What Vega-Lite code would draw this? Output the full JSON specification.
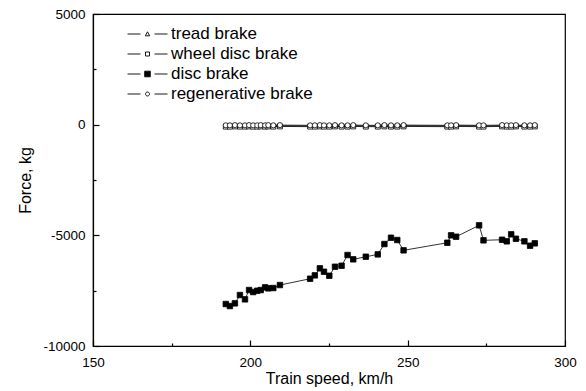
{
  "$schema": "https://vega.github.io/schema/vega-lite/v6.json",
  "width": 472,
  "height": 332,
  "autosize": {"type": "none"},
  "padding": {"left": 93, "top": 14, "right": 21, "bottom": 45},
  "background": "white",
  "config": {
    "font": "Liberation Sans",
    "view": {"stroke": "black", "strokeWidth": 1.2},
    "axis": {"grid": false, "domainColor": "black", "tickColor": "black", "labelColor": "black", "titleColor": "black", "labelFont": "Liberation Sans", "titleFont": "Liberation Sans", "titleFontWeight": "normal", "labelFontSize": 13.5, "titleFontSize": 16}
  },
  "datasets": {
    "pts": [
      {"series":"disc brake","speed":192.2,"force":-8104},{"series":"disc brake","speed":193.5,"force":-8195},{"series":"disc brake","speed":195.1,"force":-8073},{"series":"disc brake","speed":196.7,"force":-7698},{"series":"disc brake","speed":198.3,"force":-7892},{"series":"disc brake","speed":199.6,"force":-7472},{"series":"disc brake","speed":200.9,"force":-7562},{"series":"disc brake","speed":202.2,"force":-7503},{"series":"disc brake","speed":203.3,"force":-7472},{"series":"disc brake","speed":204.7,"force":-7350},{"series":"disc brake","speed":205.7,"force":-7395},{"series":"disc brake","speed":207.3,"force":-7381},{"series":"disc brake","speed":209.4,"force":-7246},{"series":"disc brake","speed":219.0,"force":-6961},{"series":"disc brake","speed":220.5,"force":-6808},{"series":"disc brake","speed":222.1,"force":-6491},{"series":"disc brake","speed":223.4,"force":-6645},{"series":"disc brake","speed":225.1,"force":-6826},{"series":"disc brake","speed":226.9,"force":-6419},{"series":"disc brake","speed":229.0,"force":-6374},{"series":"disc brake","speed":230.9,"force":-5890},{"series":"disc brake","speed":232.7,"force":-6084},{"series":"disc brake","speed":236.7,"force":-5967},{"series":"disc brake","speed":240.5,"force":-5860},{"series":"disc brake","speed":242.6,"force":-5393},{"series":"disc brake","speed":244.7,"force":-5108},{"series":"disc brake","speed":246.7,"force":-5212},{"series":"disc brake","speed":248.7,"force":-5678},{"series":"disc brake","speed":262.6,"force":-5335},{"series":"disc brake","speed":263.8,"force":-5000},{"series":"disc brake","speed":265.4,"force":-5063},{"series":"disc brake","speed":272.7,"force":-4548},{"series":"disc brake","speed":274.1,"force":-5226},{"series":"disc brake","speed":280.0,"force":-5199},{"series":"disc brake","speed":281.5,"force":-5271},{"series":"disc brake","speed":282.9,"force":-4955},{"series":"disc brake","speed":284.4,"force":-5154},{"series":"disc brake","speed":287.1,"force":-5271},{"series":"disc brake","speed":288.9,"force":-5470},{"series":"disc brake","speed":290.4,"force":-5361},

      {"series":"tread brake","speed":192.2,"force":-60},{"series":"tread brake","speed":193.5,"force":-60},{"series":"tread brake","speed":195.1,"force":-50},{"series":"tread brake","speed":196.7,"force":-60},{"series":"tread brake","speed":198.3,"force":-60},{"series":"tread brake","speed":199.6,"force":-50},{"series":"tread brake","speed":200.9,"force":-60},{"series":"tread brake","speed":202.2,"force":-60},{"series":"tread brake","speed":203.3,"force":-50},{"series":"tread brake","speed":204.7,"force":-60},{"series":"tread brake","speed":205.7,"force":-50},{"series":"tread brake","speed":207.3,"force":-60},{"series":"tread brake","speed":209.4,"force":-50},{"series":"tread brake","speed":219.0,"force":-60},{"series":"tread brake","speed":220.5,"force":-60},{"series":"tread brake","speed":222.1,"force":-50},{"series":"tread brake","speed":223.4,"force":-60},{"series":"tread brake","speed":225.1,"force":-60},{"series":"tread brake","speed":226.9,"force":-50},{"series":"tread brake","speed":229.0,"force":-60},{"series":"tread brake","speed":230.9,"force":-60},{"series":"tread brake","speed":232.7,"force":-50},{"series":"tread brake","speed":236.7,"force":-60},{"series":"tread brake","speed":240.5,"force":-60},{"series":"tread brake","speed":242.6,"force":-50},{"series":"tread brake","speed":244.7,"force":-60},{"series":"tread brake","speed":246.7,"force":-60},{"series":"tread brake","speed":248.7,"force":-50},{"series":"tread brake","speed":262.6,"force":-60},{"series":"tread brake","speed":263.8,"force":-60},{"series":"tread brake","speed":265.4,"force":-50},{"series":"tread brake","speed":272.7,"force":-60},{"series":"tread brake","speed":274.1,"force":-60},{"series":"tread brake","speed":280.0,"force":-50},{"series":"tread brake","speed":281.5,"force":-60},{"series":"tread brake","speed":282.9,"force":-60},{"series":"tread brake","speed":284.4,"force":-50},{"series":"tread brake","speed":287.1,"force":-60},{"series":"tread brake","speed":288.9,"force":-60},{"series":"tread brake","speed":290.4,"force":-50},

      {"series":"wheel disc brake","speed":192.2,"force":-90},{"series":"wheel disc brake","speed":193.5,"force":-90},{"series":"wheel disc brake","speed":195.1,"force":-80},{"series":"wheel disc brake","speed":196.7,"force":-90},{"series":"wheel disc brake","speed":198.3,"force":-90},{"series":"wheel disc brake","speed":199.6,"force":-80},{"series":"wheel disc brake","speed":200.9,"force":-90},{"series":"wheel disc brake","speed":202.2,"force":-90},{"series":"wheel disc brake","speed":203.3,"force":-80},{"series":"wheel disc brake","speed":204.7,"force":-90},{"series":"wheel disc brake","speed":205.7,"force":-80},{"series":"wheel disc brake","speed":207.3,"force":-90},{"series":"wheel disc brake","speed":209.4,"force":-80},{"series":"wheel disc brake","speed":219.0,"force":-90},{"series":"wheel disc brake","speed":220.5,"force":-90},{"series":"wheel disc brake","speed":222.1,"force":-80},{"series":"wheel disc brake","speed":223.4,"force":-90},{"series":"wheel disc brake","speed":225.1,"force":-90},{"series":"wheel disc brake","speed":226.9,"force":-80},{"series":"wheel disc brake","speed":229.0,"force":-90},{"series":"wheel disc brake","speed":230.9,"force":-90},{"series":"wheel disc brake","speed":232.7,"force":-80},{"series":"wheel disc brake","speed":236.7,"force":-90},{"series":"wheel disc brake","speed":240.5,"force":-90},{"series":"wheel disc brake","speed":242.6,"force":-80},{"series":"wheel disc brake","speed":244.7,"force":-90},{"series":"wheel disc brake","speed":246.7,"force":-90},{"series":"wheel disc brake","speed":248.7,"force":-80},{"series":"wheel disc brake","speed":262.6,"force":-90},{"series":"wheel disc brake","speed":263.8,"force":-90},{"series":"wheel disc brake","speed":265.4,"force":-80},{"series":"wheel disc brake","speed":272.7,"force":-90},{"series":"wheel disc brake","speed":274.1,"force":-90},{"series":"wheel disc brake","speed":280.0,"force":-80},{"series":"wheel disc brake","speed":281.5,"force":-90},{"series":"wheel disc brake","speed":282.9,"force":-90},{"series":"wheel disc brake","speed":284.4,"force":-80},{"series":"wheel disc brake","speed":287.1,"force":-90},{"series":"wheel disc brake","speed":288.9,"force":-90},{"series":"wheel disc brake","speed":290.4,"force":-80},

      {"series":"regenerative brake","speed":192.2,"force":-30},{"series":"regenerative brake","speed":193.5,"force":-30},{"series":"regenerative brake","speed":195.1,"force":-20},{"series":"regenerative brake","speed":196.7,"force":-30},{"series":"regenerative brake","speed":198.3,"force":-30},{"series":"regenerative brake","speed":199.6,"force":-20},{"series":"regenerative brake","speed":200.9,"force":-30},{"series":"regenerative brake","speed":202.2,"force":-30},{"series":"regenerative brake","speed":203.3,"force":-20},{"series":"regenerative brake","speed":204.7,"force":-30},{"series":"regenerative brake","speed":205.7,"force":-20},{"series":"regenerative brake","speed":207.3,"force":-30},{"series":"regenerative brake","speed":209.4,"force":-20},{"series":"regenerative brake","speed":219.0,"force":-30},{"series":"regenerative brake","speed":220.5,"force":-30},{"series":"regenerative brake","speed":222.1,"force":-20},{"series":"regenerative brake","speed":223.4,"force":-30},{"series":"regenerative brake","speed":225.1,"force":-30},{"series":"regenerative brake","speed":226.9,"force":-20},{"series":"regenerative brake","speed":229.0,"force":-30},{"series":"regenerative brake","speed":230.9,"force":-30},{"series":"regenerative brake","speed":232.7,"force":-20},{"series":"regenerative brake","speed":236.7,"force":-30},{"series":"regenerative brake","speed":240.5,"force":-30},{"series":"regenerative brake","speed":242.6,"force":-20},{"series":"regenerative brake","speed":244.7,"force":-30},{"series":"regenerative brake","speed":246.7,"force":-30},{"series":"regenerative brake","speed":248.7,"force":-20},{"series":"regenerative brake","speed":262.6,"force":-30},{"series":"regenerative brake","speed":263.8,"force":-30},{"series":"regenerative brake","speed":265.4,"force":-20},{"series":"regenerative brake","speed":272.7,"force":-30},{"series":"regenerative brake","speed":274.1,"force":-30},{"series":"regenerative brake","speed":280.0,"force":-20},{"series":"regenerative brake","speed":281.5,"force":-30},{"series":"regenerative brake","speed":282.9,"force":-30},{"series":"regenerative brake","speed":284.4,"force":-20},{"series":"regenerative brake","speed":287.1,"force":-30},{"series":"regenerative brake","speed":288.9,"force":-30},{"series":"regenerative brake","speed":290.4,"force":-20}
    ]
  },
  "data": {"name": "pts"},
  "encoding": {
    "x": {
      "field": "speed", "type": "quantitative",
      "scale": {"domain": [150, 300], "nice": false, "zero": false},
      "axis": {
        "title": "Train speed, km/h", "titleFontSize": 16, "titlePadding": 2,
        "values": [150, 175, 200, 225, 250, 275, 300],
        "labelExpr": "datum.value % 50 === 0 ? '' + datum.value : ''",
        "tickSize": {"condition": {"test": "datum.value % 50 === 0", "value": -6}, "value": -3},
        "labelPadding": 15, "domainWidth": 1.2, "tickWidth": 1.2, "labelFlush": false
      }
    },
    "y": {
      "field": "force", "type": "quantitative",
      "scale": {"domain": [-10000, 5000], "nice": false, "zero": false},
      "axis": {
        "title": "Force, kg", "titleFontSize": 16, "titlePadding": 9,
        "values": [-10000, -7500, -5000, -2500, 0, 2500, 5000],
        "labelExpr": "datum.value % 5000 === 0 ? '' + datum.value : ''",
        "tickSize": {"condition": {"test": "datum.value % 5000 === 0", "value": -6}, "value": -3},
        "labelPadding": 14, "domainWidth": 1.2, "tickWidth": 1.2, "labelFlush": false
      }
    }
  },
  "layer": [
    {
      "mark": {"type": "line", "color": "black", "strokeWidth": 0.8},
      "encoding": {"detail": {"field": "series"}}
    },
    {
      "mark": {"type": "point", "opacity": 0, "size": 1, "filled": false, "strokeWidth": 0.9},
      "encoding": {
        "shape": {
          "field": "series", "type": "nominal",
          "scale": {"domain": ["tread brake", "wheel disc brake", "disc brake", "regenerative brake"],
            "range": ["M-1,0H-0.35M0.35,0H1M-0.11,0.09L0,-0.11L0.11,0.09Z", "M-1,0H-0.35M0.35,0H1M-0.1,-0.1H0.1V0.1H-0.1Z", "M-1,0H-0.35M0.35,0H1M-0.14,-0.14H0.14V0.14H-0.14Z", "M-1,0H-0.35M0.35,0H1M0.1,0A0.1,0.1,0,1,1,-0.1,0A0.1,0.1,0,1,1,0.1,0Z"]},
          "legend": {
            "title": null, "orient": "none", "legendX": 34, "legendY": 10,
            "labelFontSize": 17, "labelColor": "black", "labelFont": "Liberation Sans", "labelOffset": 3,
            "rowPadding": 0, "clipHeight": 20, "padding": 0, "symbolSize": 1600, "symbolStrokeWidth": 0.9,
            "symbolOpacity": 1
          }
        },
        "fill": {
          "field": "series", "type": "nominal",
          "scale": {"domain": ["tread brake", "wheel disc brake", "disc brake", "regenerative brake"], "range": ["white", "white", "black", "white"]},
          "legend": null
        },
        "stroke": {
          "field": "series", "type": "nominal",
          "scale": {"domain": ["tread brake", "wheel disc brake", "disc brake", "regenerative brake"], "range": ["black", "black", "black", "black"]},
          "legend": null
        }
      }
    },
    {
      "transform": [{"filter": "datum.series === 'tread brake'"}],
      "mark": {"type": "point", "shape": "triangle-up", "stroke": "black", "fill": "white", "filled": true, "strokeWidth": 0.8, "opacity": 1, "size": 26}
    },
    {
      "transform": [{"filter": "datum.series === 'wheel disc brake'"}],
      "mark": {"type": "point", "shape": "square", "stroke": "black", "fill": "white", "filled": true, "strokeWidth": 0.8, "opacity": 1, "size": 24}
    },
    {
      "transform": [{"filter": "datum.series === 'disc brake'"}],
      "mark": {"type": "point", "shape": "square", "stroke": "black", "fill": "black", "filled": true, "strokeWidth": 0.8, "opacity": 1, "size": 30}
    },
    {
      "transform": [{"filter": "datum.series === 'regenerative brake'"}],
      "mark": {"type": "point", "shape": "circle", "stroke": "black", "fill": "white", "filled": true, "strokeWidth": 0.8, "opacity": 1, "size": 26}
    }
  ]
}
